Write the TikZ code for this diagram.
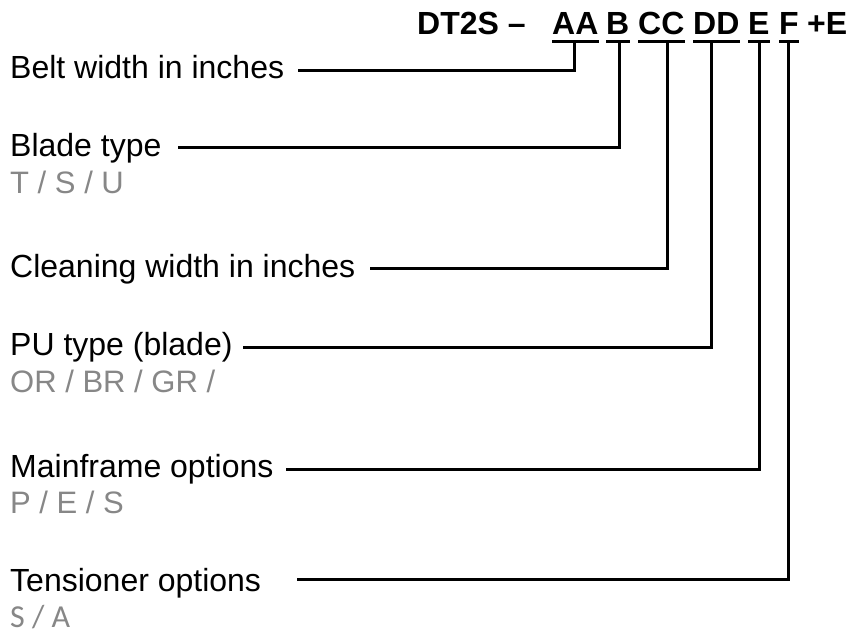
\documentclass[tikz,border=0pt]{standalone}
\usepackage{fontspec}
\setmainfont{Liberation Sans}
\newfontfamily\calfont{Carlito}
\definecolor{subgray}{RGB}{135,135,135}
\begin{document}
\begin{tikzpicture}[x=1pt,y=-1pt,
  lbl/.style={anchor=base west,inner sep=0pt,font=\fontsize{32}{38}\selectfont},
  sub/.style={anchor=base west,inner sep=0pt,font=\fontsize{31}{37}\selectfont,text=subgray},
  code/.style={anchor=base west,inner sep=0pt,font=\fontsize{32}{38}\selectfont\bfseries},
  uline/.style={line width=3pt},
  conn/.style={line width=3pt,line join=miter}]
\useasboundingbox (0,0) rectangle (848,634);
% code header
\node[code] (title) at (417,35) {DT2S –};
\node[code] (aa) at (552,35) {AA};
\node[code] (b) at (606,35) {B};
\node[code] (cc) at (638,35) {CC};
\node[code] (dd) at (693,35) {DD};
\node[code] (e) at (748,35) {E};
\node[code] (f) at (779,35) {F};
\node[code] (pe) at (807,35) {+E};
\foreach \g in {aa,b,cc,dd,e,f}{
  \draw[uline] ([yshift=-6.5pt]\g.base west) -- ([yshift=-6.5pt]\g.base east);
}
% labels
\node[lbl] (belt) at (10,78) {Belt width in inches};
\node[lbl] (blade) at (10,156) {Blade type};
\node[sub] (bladeo) at (10,193) {T / S / U};
\node[lbl] (clean) at (10,277) {Cleaning width in inches};
\node[lbl] (pu) at (10,355) {PU type (blade)};
\node[sub] (puo) at (10,392) {OR / BR / GR /};
\node[lbl] (main) at (10,477) {Mainframe options};
\node[sub] (maino) at (10,513) {P / E / S};
\node[lbl] (tens) at (10,591) {Tensioner options};
\node[sub,font=\calfont\fontsize{32}{38}\selectfont] (tenso) at (10,627) {S / A};
% connector ends
\coordinate (sAA) at (298,70);  \coordinate (dAA) at (574,41.5);
\coordinate (sB)  at (178,147); \coordinate (dB)  at (619,41.5);
\coordinate (sCC) at (370,268); \coordinate (dCC) at (667,41.5);
\coordinate (sDD) at (243,347); \coordinate (dDD) at (711,41.5);
\coordinate (sE)  at (286,469); \coordinate (dE)  at (759,41.5);
\coordinate (sF)  at (297,579); \coordinate (dF)  at (788,41.5);
\foreach \g in {AA,B,CC,DD,E,F}{
  \draw[conn] (s\g) -| (d\g);
}
\end{tikzpicture}
\end{document}
